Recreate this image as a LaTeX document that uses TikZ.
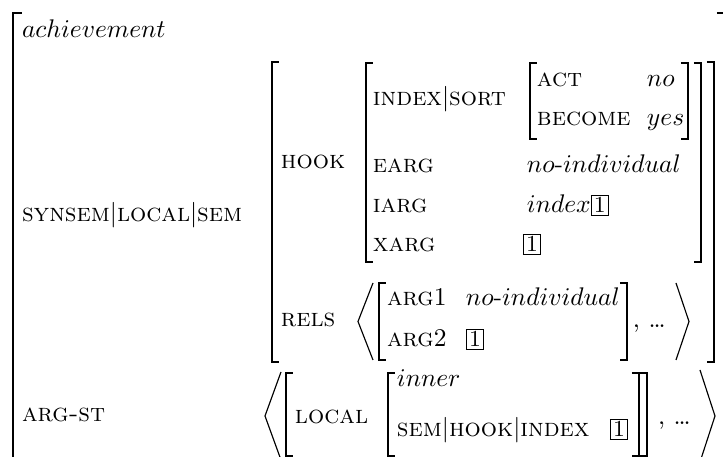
\documentclass[tikz,border=0pt]{standalone}
\newcommand\bx[1]{{\setlength\fboxsep{0.8pt}\setlength\fboxrule{0.4pt}\fbox{\small #1}}}
\newcommand\lbrk[3]{\draw[brk] (#1+7,#2) -- (#1,#2) -- (#1,#3) -- (#1+7,#3);}
\newcommand\rbrk[3]{\draw[brk] (#1-7,#2) -- (#1,#2) -- (#1,#3) -- (#1-7,#3);}
\begin{document}
\begin{tikzpicture}[x=0.392pt,y=-0.392pt,
  txt/.style={anchor=base west,inner sep=0pt,outer sep=0pt},
  brk/.style={line width=0.7pt},
  ang/.style={line width=0.45pt}]
\useasboundingbox (0,0) rectangle (723,457);
\clip (0,0) rectangle (723,457);
% outer
\draw[brk] (22,13) -- (13,13) -- (13,470);
\draw[brk] (717,13) -- (726,13) -- (726,470);
\node[txt] (ach) at (22,38) {$achievement$};
\node[txt] (ssl) at (22,222) {\textsc{synsem}$|$\textsc{local}$|$\textsc{sem}};
% SYNSEM value
\lbrk{272}{62}{362}
\rbrk{714}{62}{362}
\node[txt] (hook) at (281,169) {\textsc{hook}};
\lbrk{366}{63}{262}
\rbrk{701}{63}{262}
\node[txt] (idxs) at (373,106) {\textsc{index}$|$\textsc{sort}};
\lbrk{530}{63}{139}
\rbrk{688}{63}{139}
\node[txt] (act) at (537,87) {\textsc{act}};
\node[txt] (no) at (647,87) {$no$};
\node[txt] (bec) at (537,126) {\textsc{become}};
\node[txt] (yes) at (647,126) {$yes$};
\node[txt] (earg) at (373,173) {\textsc{earg}};
\node[txt] (nind) at (527,173) {$no$-$individual$};
\node[txt] (iarg) at (373,213) {\textsc{iarg}};
\node[txt] (ind) at (527,213) {$index$\bx{1}};
\node[txt] (xarg) at (373,252) {\textsc{xarg}};
\node[txt] (xv) at (523,252) {\bx{1}};
% RELS
\node[txt] (rels) at (281,327) {\textsc{rels}};
\draw[ang] (373,283) -- (358,321.5) -- (373,360);
\lbrk{379}{283}{360}
\node[txt] (a1) at (387,306) {\textsc{arg}1};
\node[txt] (a1v) at (466,306) {$no$-$individual$};
\node[txt] (a2) at (387,347) {\textsc{arg}2};
\node[txt] (a2v) at (466,347) {\bx{1}};
\rbrk{627}{283}{360}
\node[txt] (rd) at (633,328) {,\ \ldots};
\draw[ang] (676,283) -- (689,321.5) -- (676,360);
% ARG-ST
\node[txt] (argst) at (22,422) {\textsc{arg-st}};
\draw[ang] (281,372) -- (265,416) -- (281,460);
\lbrk{286}{373}{456}
\node[txt] (loc) at (295,424) {\textsc{local}};
\lbrk{388}{373}{456}
\node[txt] (inn) at (397,387) {$inner$};
\node[txt] (shi) at (397,437) {\textsc{sem}$|$\textsc{hook}$|$\textsc{index}};
\node[txt] (shiv) at (610,437) {\bx{1}};
\rbrk{639}{373}{456}
\rbrk{647}{373}{456}
\node[txt] (ad) at (658,425) {,\ \ldots};
\draw[ang] (700,370) -- (715,416) -- (700,462);
\end{tikzpicture}
\end{document}
